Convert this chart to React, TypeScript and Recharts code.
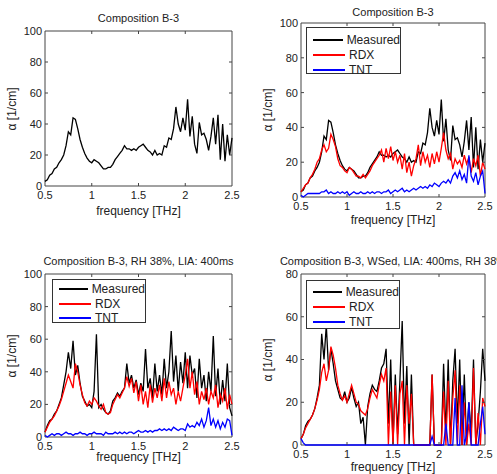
import { LineChart, Line, XAxis, YAxis, ReferenceArea, ReferenceLine } from 'recharts'

const FONT = '"Liberation Sans", Arial, sans-serif'

// frequency axis, THz
const freq = [
  0.5, 0.525, 0.55, 0.575, 0.6, 0.625, 0.65, 0.675, 0.7, 0.725,
  0.75, 0.775, 0.8, 0.825, 0.85, 0.875, 0.9, 0.925, 0.95, 0.975,
  1.0, 1.025, 1.05, 1.075, 1.1, 1.125, 1.15, 1.175, 1.2, 1.225,
  1.25, 1.275, 1.3, 1.325, 1.35, 1.375, 1.4, 1.425, 1.45, 1.475,
  1.5, 1.525, 1.55, 1.575, 1.6, 1.625, 1.65, 1.675, 1.7, 1.725,
  1.75, 1.775, 1.8, 1.825, 1.85, 1.875, 1.9, 1.925, 1.95, 1.975,
  2.0, 2.025, 2.05, 2.075, 2.1, 2.125, 2.15, 2.175, 2.2, 2.225,
  2.25, 2.275, 2.3, 2.325, 2.35, 2.375, 2.4, 2.425, 2.45, 2.475,
  2.5,
]

const xTicks = [0.5, 1, 1.5, 2, 2.5]
const yTicks100 = [0, 20, 40, 60, 80, 100]
const yTicks80 = [0, 20, 40, 60, 80]

// Composition B-3 (top panels)
const measuredB3 = [
  3, 4, 7, 8, 11, 12, 15, 17, 20, 26,
  35, 33, 44, 43, 37, 30, 25, 21, 18, 16,
  15, 17, 16, 15, 13, 11, 11, 12, 12, 14,
  17, 19, 21, 23, 26, 24, 24, 23, 24, 23,
  25, 26, 27, 25, 23, 22, 20, 23, 20, 21,
  20, 26, 25, 31, 30, 37, 51, 40, 35, 44,
  36, 56, 32, 45, 27, 21, 41, 33, 34, 30,
  23, 32, 44, 27, 46, 17, 40, 16, 33, 20,
  31,
]
const rdxB3 = [
  3, 5, 7, 8, 11, 13, 16, 20, 22, 27,
  30, 26, 28, 36, 33, 29, 22, 18, 17, 15,
  14, 17, 16, 14, 12, 12, 11, 13, 11, 13,
  15, 18, 20, 22, 24, 27, 20, 28, 22, 29,
  21, 26, 20, 24, 16, 25, 14, 20, 12, 18,
  22, 30, 18, 26, 20, 24, 17, 25, 19, 26,
  20, 28, 37, 27, 22, 25, 16, 22, 19, 21,
  17, 24, 19, 23, 14, 22, 18, 24, 12, 20,
  16,
]
const tntB3 = [
  1, 0, 1, 2, 2, 2, 2, 2, 2, 3,
  3, 4, 2, 3, 2, 2, 3, 2, 3, 2,
  3, 1, 2, 3, 2, 2, 3, 2, 2, 3,
  2, 3, 2, 3, 3, 2, 3, 3, 4, 2,
  3, 4, 3, 4, 5, 3, 4, 3, 4, 5,
  4, 5, 6, 5, 6, 5, 7, 6, 8, 7,
  6, 8, 9, 8, 10, 8, 12, 14, 11, 15,
  10, 13, 8, 24, 12, 9, 14, 7, 12, 15,
  2,
]

// RH 38%, LIA 400ms
const measuredRH = [
  3, 7, 10, 11, 14, 16, 20, 24, 32, 40,
  52, 42, 59, 38, 44, 33, 25, 22, 19, 20,
  18, 28, 63, 18, 20, 17, 15, 14, 16, 22,
  24, 27, 25, 28, 30, 45, 33, 38, 30, 35,
  26, 33, 28, 54, 30, 36, 24, 45, 28, 38,
  26, 48, 30, 40, 65, 34, 50, 28, 46, 33,
  52, 30, 50, 38, 42, 24, 48, 30, 38, 22,
  40, 28, 62, 25, 42, 20, 35, 22, 45, 18,
  13,
]
const rdxRH = [
  3, 6, 9, 11, 13, 16, 19, 23, 28, 33,
  38, 34, 30, 45, 40, 32, 26, 21, 19, 22,
  20, 24, 22, 19, 17, 20, 15, 14, 15, 20,
  23, 26, 24, 27, 30, 37, 31, 36, 27, 34,
  22, 32, 20, 28, 18, 32, 21, 30, 24, 32,
  22, 36, 24, 34, 26, 30, 20, 28, 22, 30,
  38, 48, 30, 40, 26, 34, 20, 28, 23, 30,
  20, 28, 24, 32, 18, 26, 22, 30, 17, 26,
  20,
]
const tntRH = [
  1, 0, 1, 2, 1, 2, 2, 1, 2, 3,
  2, 2, 1, 2, 2, 3, 2, 2, 1, 2,
  2, 3, 2, 2, 2, 1, 3, 2, 2, 2,
  3, 2, 3, 2, 3, 2, 3, 3, 2, 3,
  4, 3, 3, 4, 3, 4, 3, 4, 4, 5,
  4, 5, 4, 5, 4, 6, 5, 4, 5, 5,
  4, 8, 6, 7, 6, 9, 7, 11, 6, 10,
  18, 7, 11, 6, 10, 5, 9, 6, 11, 10,
  1,
]

// WSed, LIA 400ms, RH 38%
const measuredWS = [
  3, 5, 9, 11, 12, 14, 17, 22, 28, 52,
  40, 56, 35, 45, 38, 30, 26, 22, 21, 25,
  20, 22, 27, 22, 18, 20, 10, 13, 0, 18,
  24, 28, 26, 25, 30, 36, 38, 45, 10, 40,
  0, 33, 5, 30, 58, 10, 37, 0, 33, 0,
  0, 0, 0, 0, 0, 0, 0, 33, 0, 0,
  0, 0, 38, 5, 40, 0, 30, 45, 10, 40,
  0, 33, 0, 20, 5, 40, 0, 10, 25, 45,
  30,
]
const rdxWS = [
  3, 5, 8, 10, 12, 14, 17, 21, 26, 34,
  38, 30, 35, 46, 42, 36, 28, 24, 21, 23,
  20, 24, 28, 24, 20, 19, 16, 15, 14, 17,
  22, 26, 24, 22, 28, 33, 30, 36, 0, 25,
  0, 28, 0, 24, 30, 0, 28, 10, 24, 0,
  0, 0, 0, 0, 0, 0, 0, 33, 0, 0,
  0, 0, 25, 0, 30, 0, 22, 35, 0, 28,
  0, 20, 0, 10, 0, 36, 0, 15, 0, 22,
  18,
]
const tntWS = [
  3, 1, 0, 0, 0, 0, 0, 0, 0, 0,
  0, 0, 0, 0, 0, 0, 0, 0, 0, 0,
  0, 0, 0, 0, 0, 0, 0, 0, 0, 0,
  0, 0, 0, 0, 0, 0, 0, 0, 0, 0,
  0, 0, 0, 0, 0, 0, 0, 0, 0, 0,
  0, 0, 0, 0, 0, 0, 0, 4, 0, 0,
  0, 0, 0, 10, 0, 0, 0, 22, 0, 0,
  28, 0, 5, 20, 0, 0, 0, 0, 10, 18,
  5,
]

const seriesNames = ['Measured', 'RDX', 'TNT']
const seriesColors = ['#000000', '#ff0000', '#0000ff']

type PanelProps = {
  x: number
  y: number
  w: number
  h: number
  yMax: number
  yTicks: number[]
  title: string
  titleY: number
  xLabelY: number
  values: number[][]
  legend?: { left: number; top: number; width: number; height: number; pad: number; row: number }
}

const tickStyle = { fill: '#222', fontSize: 11, fontFamily: FONT }

function centered(left: number, top: number, text: string, size: number, rotate = false) {
  return (
    <div
      style={{
        position: 'absolute',
        left,
        top,
        transform: `translate(-50%, -50%)${rotate ? ' rotate(-90deg)' : ''}`,
        whiteSpace: 'nowrap',
        fontSize: size,
        color: '#222',
        lineHeight: 1,
      }}
    >
      {text}
    </div>
  )
}

function Panel({ x, y, w, h, yMax, yTicks, title, titleY, xLabelY, values, legend }: PanelProps) {
  const axisW = 40
  const mTop = 8
  const mRight = 14
  const axisH = 20
  const data = freq.map((f, i) => {
    const row: Record<string, number> = { f }
    values.forEach((v, k) => (row['s' + k] = v[i]))
    return row
  })
  const cx = x + w / 2
  const cy = y + h / 2
  // inward tick length (~3px) in data units
  const dx = (3 * 2) / w
  const dy = (3 * yMax) / h

  return (
    <>
      <div style={{ position: 'absolute', left: x - axisW, top: y - mTop }}>
        <LineChart
          width={axisW + w + mRight}
          height={mTop + h + axisH}
          data={data}
          margin={{ top: mTop, right: mRight, bottom: 0, left: 0 }}
        >
          <XAxis
            dataKey="f"
            type="number"
            domain={[0.5, 2.5]}
            ticks={xTicks}
            height={axisH}
            axisLine={false}
            tickLine={false}
            tickSize={0}
            tickMargin={5}
            tick={tickStyle}
            interval={0}
          />
          <YAxis
            type="number"
            domain={[0, yMax]}
            ticks={yTicks}
            width={axisW}
            axisLine={false}
            tickLine={false}
            tickSize={0}
            tickMargin={3}
            tick={tickStyle}
            interval={0}
          />
          {values.map((_, k) => (
            <Line
              key={k}
              dataKey={'s' + k}
              stroke={seriesColors[k]}
              strokeWidth={1.3}
              dot={false}
              isAnimationActive={false}
            />
          ))}
          {xTicks.slice(1, -1).map((t) => (
            <ReferenceLine key={'xb' + t} segment={[{ x: t, y: 0 }, { x: t, y: dy }]} stroke="#444" />
          ))}
          {xTicks.slice(1, -1).map((t) => (
            <ReferenceLine key={'xt' + t} segment={[{ x: t, y: yMax }, { x: t, y: yMax - dy }]} stroke="#444" />
          ))}
          {yTicks.slice(1, -1).map((t) => (
            <ReferenceLine key={'yl' + t} segment={[{ x: 0.5, y: t }, { x: 0.5 + dx, y: t }]} stroke="#444" />
          ))}
          {yTicks.slice(1, -1).map((t) => (
            <ReferenceLine key={'yr' + t} segment={[{ x: 2.5, y: t }, { x: 2.5 - dx, y: t }]} stroke="#444" />
          ))}
          <ReferenceArea x1={0.5} x2={2.5} y1={0} y2={yMax} fill="none" stroke="#444" strokeWidth={1} />
        </LineChart>
      </div>
      {centered(cx, titleY, title, 11)}
      {centered(cx, xLabelY, 'frequency [THz]', 12)}
      {centered(x - 33, cy, 'α [1/cm]', 12, true)}
      {legend && (
        <div
          style={{
            position: 'absolute',
            left: legend.left,
            top: legend.top,
            width: legend.width,
            height: legend.height,
            boxSizing: 'border-box',
            border: '1px solid #333',
            background: '#fff',
            paddingTop: legend.pad,
          }}
        >
          {values.map((_, k) => (
            <div key={k} style={{ display: 'flex', alignItems: 'center', height: legend.row }}>
              <div style={{ marginLeft: 6, width: 32, height: 2, background: seriesColors[k] }} />
              <span style={{ marginLeft: 4, fontSize: 12, color: '#222' }}>{seriesNames[k]}</span>
            </div>
          ))}
        </div>
      )}
    </>
  )
}

export default function App() {
  return (
    <div
      style={{
        position: 'absolute',
        left: 0,
        top: 0,
        width: 497,
        height: 474,
        overflow: 'hidden',
        background: '#fff',
        fontFamily: FONT,
      }}
    >
      <Panel
        x={45}
        y={31}
        w={187}
        h={155}
        yMax={100}
        yTicks={yTicks100}
        title="Composition B-3"
        titleY={18}
        xLabelY={211}
        values={[measuredB3]}
      />
      <Panel
        x={301}
        y={23}
        w={184}
        h={174}
        yMax={100}
        yTicks={yTicks100}
        title="Composition B-3"
        titleY={12}
        xLabelY={220}
        values={[measuredB3, rdxB3, tntB3]}
        legend={{ left: 306, top: 27, width: 95, height: 47, pad: 4, row: 15 }}
      />
      <Panel
        x={45}
        y={274}
        w={187}
        h={163}
        yMax={100}
        yTicks={yTicks100}
        title="Composition B-3, RH 38%, LIA: 400ms"
        titleY={261}
        xLabelY={457}
        values={[measuredRH, rdxRH, tntRH]}
        legend={{ left: 52, top: 279, width: 94, height: 44, pad: 2, row: 14.5 }}
      />
      <Panel
        x={301}
        y={274}
        w={184}
        h={171}
        yMax={80}
        yTicks={yTicks80}
        title="Composition B-3, WSed, LIA: 400ms, RH 38%"
        titleY={261}
        xLabelY={467}
        values={[measuredWS, rdxWS, tntWS]}
        legend={{ left: 306, top: 280, width: 94, height: 49, pad: 3, row: 15 }}
      />
    </div>
  )
}
